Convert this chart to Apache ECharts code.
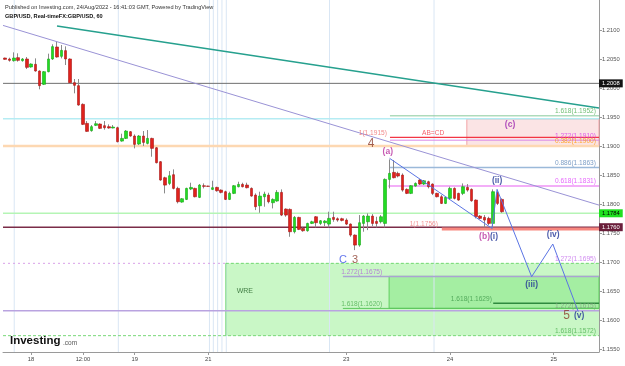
<!DOCTYPE html>
<html><head><meta charset="utf-8">
<script src="https://cdn.jsdelivr.net/npm/echarts@6/dist/echarts.min.js"></script>
<style>html,body{margin:0;padding:0;background:#fff}#c{width:625px;height:366px}</style>
</head><body><div id="c"></div>
<script>
// ---------- data ----------
const tickIndex = [6, 18, 30, 47, 79, 103, 127];
const tickText = ['18', '12:00', '19', '21', '23', '24', '25'];
const priceTicks = [1.155, 1.16, 1.165, 1.17, 1.175, 1.18, 1.185, 1.19, 1.195, 1.2, 1.205, 1.21];
// hourly candles [open, close, low, high]
const ohlc = [
[1.20517,1.20494,1.20488,1.20523],[1.20500,1.20477,1.20454,1.20523],[1.20471,1.20517,1.20454,1.20615],
[1.20523,1.20477,1.20454,1.20598],[1.20471,1.20500,1.20454,1.20517],[1.20500,1.20356,1.20327,1.20534],
[1.20362,1.20414,1.20350,1.20425],[1.20408,1.20293,1.20281,1.20511],[1.20293,1.20040,1.19977,1.20304],
[1.20063,1.20281,1.20051,1.20293],[1.20281,1.20500,1.20270,1.20592],[1.20500,1.20713,1.20483,1.20753],
[1.20707,1.20534,1.20523,1.20799],[1.20546,1.20649,1.20511,1.20741],[1.20644,1.20500,1.20396,1.20718],
[1.20500,1.20092,1.20074,1.20511],[1.20092,1.20046,1.19908,1.20155],[1.20040,1.19706,1.19695,1.20155],
[1.19718,1.19373,1.19361,1.19735],[1.19390,1.19252,1.19246,1.19430],[1.19264,1.19333,1.19246,1.19361],
[1.19356,1.19384,1.19344,1.19430],[1.19379,1.19304,1.19292,1.19390],[1.19350,1.19315,1.19281,1.19430],
[1.19333,1.19310,1.19298,1.19373],[1.19310,1.19327,1.19304,1.19361],[1.19315,1.19074,1.19062,1.19333],
[1.19085,1.19131,1.19074,1.19212],[1.19131,1.19258,1.19120,1.19275],[1.19246,1.19172,1.19160,1.19258],
[1.19172,1.19028,1.18959,1.19200],[1.19034,1.19172,1.19016,1.19189],[1.19172,1.19062,1.18999,1.19258],
[1.19045,1.19131,1.19028,1.19275],[1.19131,1.18959,1.18815,1.19143],[1.18970,1.18712,1.18700,1.18982],
[1.18729,1.18413,1.18401,1.18740],[1.18453,1.18326,1.18183,1.18470],[1.18355,1.18487,1.18326,1.18568],
[1.18505,1.18269,1.18252,1.18597],[1.18269,1.18039,1.18010,1.18298],[1.18033,1.18091,1.18022,1.18102],
[1.18079,1.18269,1.18068,1.18281],[1.18258,1.18286,1.18240,1.18367],[1.18269,1.18125,1.18114,1.18281],
[1.18114,1.18327,1.18102,1.18344],[1.18315,1.18304,1.18269,1.18355],[1.18309,1.18304,1.18298,1.18315],
[1.18252,1.18281,1.18240,1.18401],[1.18286,1.18229,1.18212,1.18298],[1.18240,1.18200,1.18183,1.18252],
[1.18212,1.18079,1.18068,1.18229],[1.18079,1.18183,1.18068,1.18212],[1.18183,1.18315,1.18171,1.18327],
[1.18298,1.18338,1.18286,1.18384],[1.18338,1.18298,1.18286,1.18367],[1.18327,1.18281,1.18269,1.18367],
[1.18269,1.18137,1.18125,1.18286],[1.18154,1.17953,1.17895,1.18183],[1.17970,1.18137,1.17849,1.18212],
[1.18125,1.18171,1.17953,1.18212],[1.18154,1.18039,1.18010,1.18194],[1.18022,1.18079,1.17924,1.18097],
[1.18051,1.18200,1.18039,1.18240],[1.18200,1.17809,1.17792,1.18252],[1.17913,1.17809,1.17780,1.17924],
[1.17907,1.17522,1.17435,1.17924],[1.17522,1.17769,1.17493,1.17792],[1.17769,1.17562,1.17550,1.17780],
[1.17579,1.17539,1.17522,1.17596],[1.17539,1.17665,1.17522,1.17677],[1.17665,1.17694,1.17654,1.17711],
[1.17780,1.17677,1.17596,1.17792],[1.17665,1.17711,1.17637,1.17723],[1.17677,1.17706,1.17619,1.17723],
[1.17654,1.17752,1.17596,1.17867],[1.17769,1.17734,1.17694,1.17867],[1.17746,1.17723,1.17694,1.17769],
[1.17746,1.17717,1.17700,1.17763],[1.17723,1.17654,1.17637,1.17752],[1.17654,1.17464,1.17435,1.17665],
[1.17464,1.17292,1.17205,1.17476],[1.17292,1.17677,1.17263,1.17809],[1.17665,1.17792,1.17522,1.17809],
[1.17694,1.17792,1.17550,1.17838],[1.17792,1.17665,1.17619,1.17826],[1.17700,1.17665,1.17596,1.17780],
[1.17694,1.17780,1.17665,1.17809],[1.17665,1.18424,1.17596,1.18442],[1.18424,1.18528,1.18269,1.18769],
[1.18545,1.18453,1.18442,1.18758],[1.18528,1.18482,1.18459,1.18557],[1.18499,1.18240,1.18212,1.18528],
[1.18252,1.18183,1.18171,1.18269],[1.18183,1.18315,1.18171,1.18327],[1.18309,1.18355,1.18298,1.18373],
[1.18413,1.18344,1.18327,1.18430],[1.18344,1.18401,1.18327,1.18413],[1.18384,1.18298,1.18269,1.18401],
[1.18344,1.18183,1.18154,1.18355],[1.18183,1.18125,1.18114,1.18194],[1.18125,1.18010,1.17999,1.18154],
[1.18010,1.18114,1.17999,1.18125],[1.18097,1.18269,1.18079,1.18298],[1.18269,1.18097,1.18079,1.18286],
[1.18183,1.18068,1.18056,1.18194],[1.18183,1.18298,1.18154,1.18355],[1.18286,1.18240,1.18212,1.18344],
[1.18252,1.18056,1.18039,1.18269],[1.18068,1.17780,1.17752,1.18079],[1.17792,1.17752,1.17740,1.17809],
[1.17769,1.17723,1.17596,1.17809],[1.17752,1.17665,1.17637,1.17780],[1.17665,1.18212,1.17579,1.18252],
[1.18194,1.18010,1.17982,1.18240],[1.18079,1.17867,1.17849,1.18097]
];
// trend lines [barIndex, price]
const purpleTrend = [[-0.5, 1.21079], [137.5, 1.17981]];
const tealTrend = [[12.0, 1.2107], [137.5, 1.19655]];
// Elliott wave paths
const waveA = [[89, 1.18788], [112.7, 1.1758]];
const waveProj = [[112.7, 1.1758], [113.9, 1.18253], [121.9, 1.16747], [126.8, 1.1731], [132.7, 1.16143]];
// full-width horizontal levels
const levelPrices = [1.2008, 1.1947, 1.1900, 1.1784, 1.1760, 1.1616];
// fib levels: price, start bar, text
const fibPrices = [1.1952, 1.1915, 1.1910, 1.1863, 1.1831, 1.1757, 1.1675, 1.1629, 1.1620];
const fibStart = [89.1, 89.1, 89.1, 89.1, 88.7, 101.1, 78.2, 113.0, 78.2];
const fibText = ['1.618(1.1952)', '1(1.1915)', '1.272(1.1910)', '0.886(1.1863)', '0.618(1.1831)',
                 '1(1.1756)', '1.272(1.1675)', '1.618(1.1629)', '1.618(1.1620)'];
// zones
const wreZone = [51.1, 1.16977, 137.5, 1.1573];
const innerZone = [88.9, 1.16752, 137.5, 1.16202];
const cZone = [106.9, 1.19466, 137.5, 1.19005];
// vertical session lines (bar positions)
const vLines = [2.1, 26.2, 47.3, 48.2, 49.2, 50.2, 51.2, 75.1, 99.3];
// wave labels [bar, price, text]
const waveLabels = [
  [84.7, 1.19034, '4'], [88.6, 1.18897, '(a)'], [113.9, 1.18397, '(ii)'],
  [111.0, 1.17436, '(b)'], [113.2, 1.17436, '(i)'], [126.9, 1.17466, '(iv)'],
  [121.9, 1.16603, '(iii)'], [130.0, 1.16069, '5'], [132.9, 1.16069, '(v)'],
  [78.2, 1.17034, 'C'], [81.0, 1.17034, '3'], [116.9, 1.19362, '(c)'], [55.5, 1.16505, 'WRE']
];

// ---------- chart ----------
const N = 138;
const cats = Array.from({length: N}, (_, i) => String(i));
const FONT = 'Liberation Sans, Arial, sans-serif';
const RIGHT = N - 0.5, LEFT = -0.5;
const YMIN = 1.154483, YMAX = 1.215172;

function seg(pts, color, width, type, z) {
  return {type: 'line', xAxisIndex: 1, yAxisIndex: 0, data: pts, symbol: 'none', silent: true,
    animation: false, lineStyle: {color: color, width: width, type: type || 'solid'}, z: z || 3};
}
function txt(k, p, text, color, size, extra) {
  return {type: 'scatter', xAxisIndex: 1, yAxisIndex: 0, data: [[k, p]], symbolSize: 1, silent: true,
    animation: false, itemStyle: {color: 'rgba(0,0,0,0)'}, z: 12,
    label: Object.assign({show: true, position: 'inside', formatter: text, color: color,
      fontSize: size, fontFamily: FONT}, extra || {})};
}
const PX = 1 / 5800; // price per pixel

const series = [];
// zones
series.push({
  type: 'line', xAxisIndex: 1, yAxisIndex: 0, data: [], symbol: 'none', silent: true, animation: false, z: 1,
  markArea: {silent: true, data: [
    [{coord: [cZone[0], cZone[1]], itemStyle: {color: '#fbe4e5', borderColor: '#f2a3a6', borderWidth: 1}},
     {coord: [cZone[2], cZone[3]]}],
    [{coord: [wreZone[0], wreZone[1]], itemStyle: {color: '#c9f7c6', borderWidth: 0}},
     {coord: [wreZone[2], wreZone[3]]}],
    [{coord: [innerZone[0], innerZone[1]], itemStyle: {color: 'rgba(70,215,70,0.28)', borderColor: '#5fcf5f', borderWidth: 1}},
     {coord: [innerZone[2], innerZone[3]]}]
  ]}
});
// vertical lines
vLines.forEach(v => series.push(seg([[v, YMIN], [v, YMAX]], '#d9e6f4', 1, 'solid', 1)));
// WRE box edges
series.push(seg([[wreZone[0], wreZone[3]], [wreZone[0], wreZone[1]]], '#6fd86f', 1, 'solid', 2));
series.push(seg([[wreZone[0], wreZone[1]], [RIGHT, wreZone[1]]], '#6fd86f', 1, [3, 2], 2));
series.push(seg([[LEFT, wreZone[1]], [wreZone[0], wreZone[1]]], '#d9a0e8', 1, [2, 3], 2));
series.push(seg([[LEFT, wreZone[3]], [RIGHT, wreZone[3]]], '#77d877', 1, [3, 2], 2));

// full width levels
const levelStyle = [
  ['#6e6e6e', 1], ['#b5ecf3', 1.5], ['#fdd8b2', 2.5], ['#b5f5b5', 1.5], ['#7b2c48', 1.5], ['#b9a3e0', 1.5]
];
levelPrices.forEach((p, i) => series.push(seg([[LEFT, p], [RIGHT, p]], levelStyle[i][0], levelStyle[i][1], 'solid', 2)));
// fib partial lines
const fibStyle = [
  ['#86c99a', 1], ['#f23645', 1.2], ['#d98ae8', 1], ['#9bb9d9', 1.5], ['#ef93f6', 1.5],
  ['#f7877f', 3], ['#aaa3d2', 1.5], ['#2f8a3f', 1.5], ['#5cc65c', 1]
];
fibPrices.forEach((p, i) => series.push(seg([[fibStart[i], p], [RIGHT, p]], fibStyle[i][0], fibStyle[i][1], 'solid', 2)));

// axis price boxes
function boxLabel(p, bg, fg) {
  const s = seg([[LEFT, p], [RIGHT, p]], 'rgba(0,0,0,0)', 0, 'solid', 13);
  s.endLabel = {show: true, formatter: p.toFixed(4), backgroundColor: bg, color: fg, fontSize: 5.8,
    fontFamily: FONT, padding: [1, 3, 1, 3], distance: 0};
  return s;
}
series.push(boxLabel(levelPrices[0], '#131313', '#ffffff'));
series.push(boxLabel(levelPrices[3], '#1fe01f', '#000000'));
series.push(boxLabel(levelPrices[4], '#6b1f3b', '#ffffff'));

// candles: wicks then bodies
series.push({
  type: 'candlestick', xAxisIndex: 0, yAxisIndex: 0, data: ohlc, barWidth: 1, silent: true, animation: false, z: 4,
  itemStyle: {color: '#8a8a8a', color0: '#8a8a8a', borderColor: '#8a8a8a', borderColor0: '#8a8a8a', borderWidth: 1}
});
series.push({
  type: 'candlestick', xAxisIndex: 0, yAxisIndex: 0, barWidth: 3, silent: true, animation: false, z: 5,
  data: ohlc.map(d => [d[0], d[1], Math.min(d[0], d[1]), Math.max(d[0], d[1])]),
  itemStyle: {color: '#22dc22', color0: '#e0221c', borderColor: '#15a815', borderColor0: '#a81818', borderWidth: 0.6}
});

// trend lines & waves
series.push(seg(purpleTrend, '#9a93d6', 1, 'solid', 6));
series.push(seg(tealTrend, '#26a08e', 1.5, 'solid', 6));
series.push(seg(waveA, '#5a74e4', 1, 'solid', 7));
series.push(seg(waveProj, '#5a74e4', 1, 'solid', 7));

// fib labels
const rightK = 136.8;
const up = PX * 1;
const fibLabelSpecs = [
  [rightK, fibPrices[0] + up, fibText[0], '#4caf50', 'right'],
  [88.4, fibPrices[1] + up, fibText[1], '#ef6b6b', 'right'],
  [rightK, fibPrices[2] + up, fibText[2], '#d83ae8', 'right'],
  [rightK, fibPrices[3] + up, fibText[3], '#5d86b8', 'right'],
  [rightK, fibPrices[4] + up, fibText[4], '#e040fb', 'right'],
  [100.2, fibPrices[5] + up, fibText[5], '#f07a7a', 'right'],
  [77.8, fibPrices[6] + up, fibText[6], '#b066d8', 'left'],
  [112.7, fibPrices[7] + up, fibText[7], '#3f9a4a', 'right'],
  [77.8, fibPrices[8] + up, fibText[8], '#4caf50', 'left']
];
fibLabelSpecs.forEach(s => series.push(txt(s[0], s[1], s[2], s[3], 6.6, {align: s[4], verticalAlign: 'bottom'})));
series.push(txt(99.1, fibPrices[1] + up, 'AB=CD', '#f23645', 6.6, {align: 'center', verticalAlign: 'bottom'}));
series.push(txt(rightK, 1.1900 + up, '0.382(1.1900)', '#ff9800', 6.6, {align: 'right', verticalAlign: 'bottom'}));
series.push(txt(rightK, wreZone[1] + up, '1.272(1.1695)', '#c46cec', 6.6, {align: 'right', verticalAlign: 'bottom'}));
series.push(txt(rightK, levelPrices[5] + up, '1.272(1.1615)', '#7d9c7d', 6.6, {align: 'right', verticalAlign: 'bottom'}));
series.push(txt(rightK, wreZone[3] + up, '1.618(1.1572)', '#4caf50', 6.6, {align: 'right', verticalAlign: 'bottom'}));

// wave labels
const waveStyle = {
  '4': ['#8b3b2b', 12, 'normal'], '5': ['#8b3b2b', 12, 'normal'], '3': ['#8b3b2b', 11, 'normal'],
  'C': ['#3d55e8', 11, 'normal'], '(a)': ['#b8319f', 8.5, 'bold'], '(b)': ['#b8319f', 8.5, 'bold'],
  '(c)': ['#9c27b0', 8.5, 'bold'], '(i)': ['#1f3396', 8.5, 'bold'], '(ii)': ['#1f3396', 8.5, 'bold'],
  '(iii)': ['#1f3396', 8.5, 'bold'], '(iv)': ['#1f3396', 8.5, 'bold'], '(v)': ['#1f3396', 8.5, 'bold'],
  'WRE': ['#1e5e22', 7, 'normal']
};
waveLabels.forEach(w => {
  const st = waveStyle[w[2]];
  series.push(txt(w[0], w[1], w[2], st[0], st[1], {fontWeight: st[2]}));
});

const chart = echarts.init(document.getElementById('c'));
chart.setOption({
  animation: false,
  backgroundColor: '#ffffff',
  title: {
    text: 'Published on Investing.com, 24/Aug/2022 - 16:41:03 GMT, Powered by TradingView',
    subtext: 'GBP/USD, Real-timeFX:GBP/USD, 60',
    left: 5, top: 0, itemGap: 3, padding: [4, 0, 0, 0],
    textStyle: {fontSize: 5.6, fontWeight: 'normal', color: '#333', fontFamily: FONT},
    subtextStyle: {fontSize: 5.6, fontWeight: 'bold', color: '#111', fontFamily: FONT}
  },
  graphic: [
    {type: 'text', left: 10, top: 335, z: 20, style: {text: 'Investing', fontSize: 11.5, fontWeight: 'bold', fill: '#111', fontFamily: FONT}},
    {type: 'text', left: 63, top: 340, z: 20, style: {text: '.com', fontSize: 6.5, fill: '#555', fontFamily: FONT}}
  ],
  grid: {left: 3, right: 26, top: 0, bottom: 14},
  xAxis: [
    {type: 'category', data: cats, boundaryGap: true,
     axisLine: {show: true, onZero: false, lineStyle: {color: '#9a9a9a'}},
     axisTick: {show: true, length: 3, alignWithLabel: true, interval: (i) => tickIndex.includes(i), lineStyle: {color: '#9a9a9a'}},
     axisLabel: {interval: (i) => tickIndex.includes(i), formatter: (v) => tickText[tickIndex.indexOf(+v)] || '',
       fontSize: 5.8, color: '#444', margin: 4, fontFamily: FONT},
     splitLine: {show: false}},
    {type: 'value', min: LEFT, max: RIGHT, show: false}
  ],
  yAxis: [{
    type: 'value', position: 'right', min: YMIN, max: YMAX,
    splitLine: {show: false},
    axisLine: {show: true, onZero: false, lineStyle: {color: '#9a9a9a'}},
    axisTick: {show: true, length: 3, customValues: priceTicks, lineStyle: {color: '#9a9a9a'}},
    axisLabel: {customValues: priceTicks, formatter: (v) => v.toFixed(4), fontSize: 5.8, color: '#555', margin: 3, fontFamily: FONT}
  }],
  series: series
});
</script>
</body></html>
